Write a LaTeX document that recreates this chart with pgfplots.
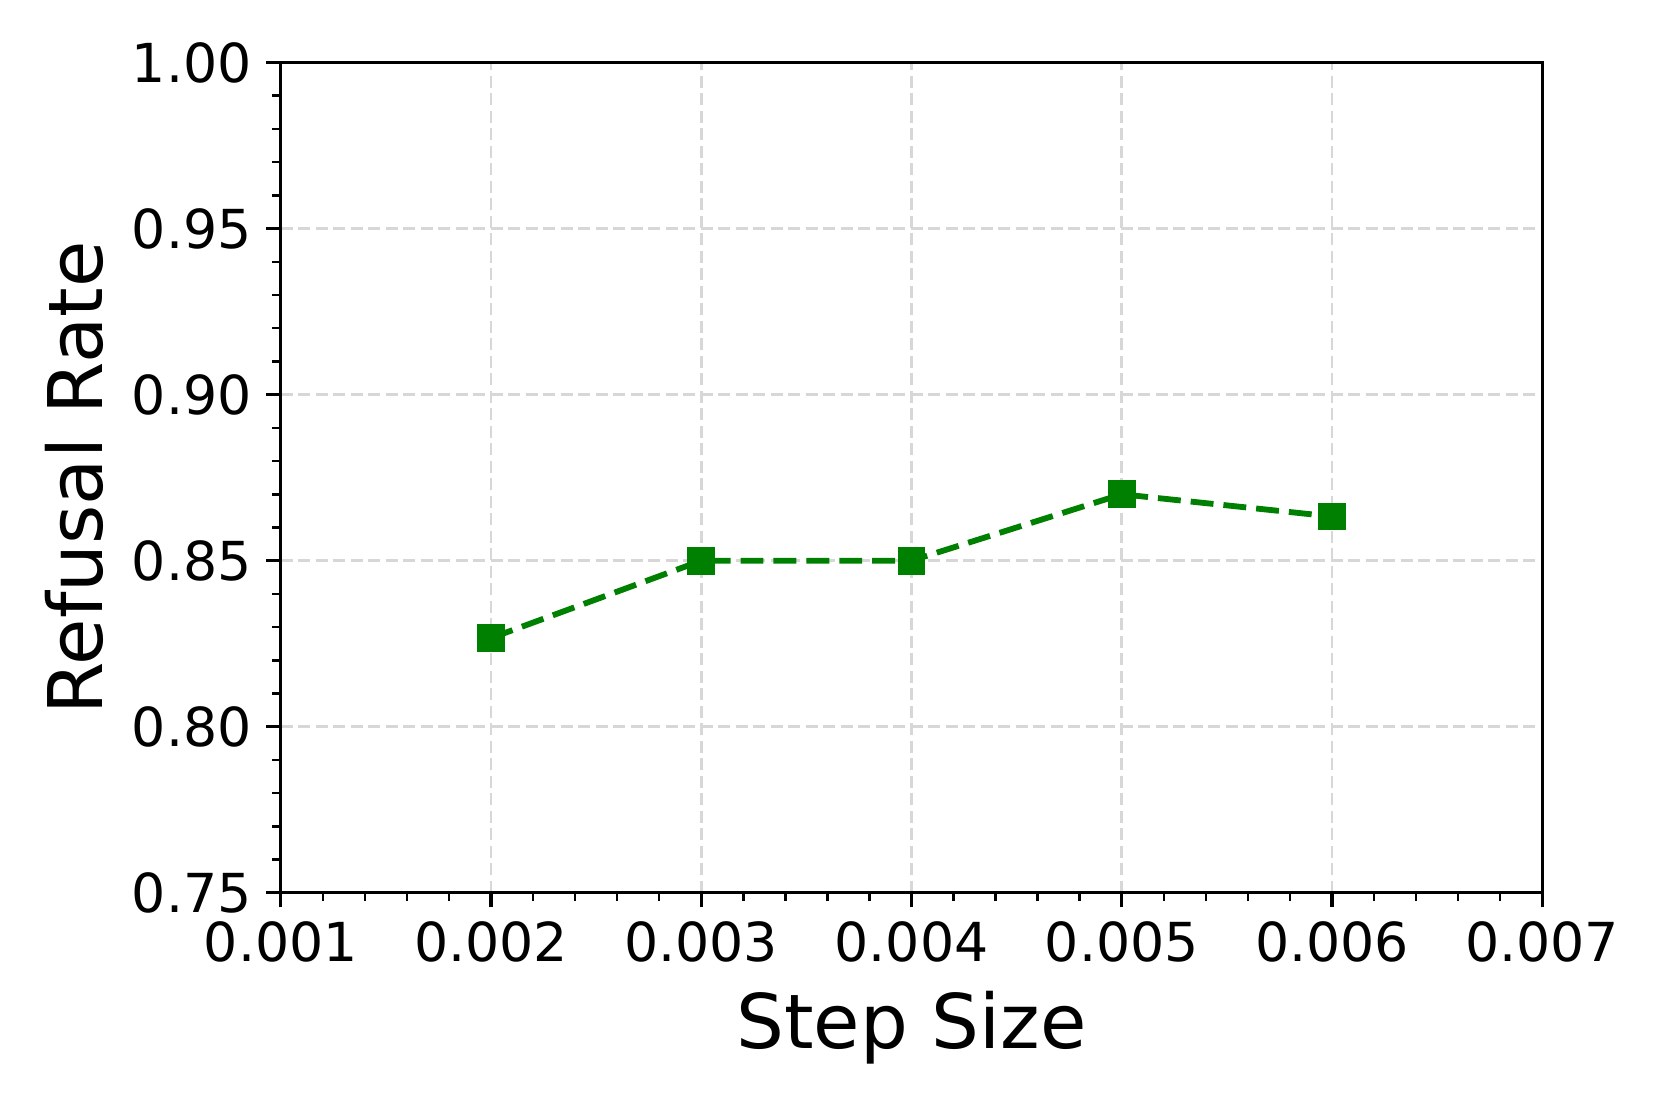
\documentclass[border=0pt]{standalone}
\usepackage{fontspec}
\setmainfont{DejaVu Sans}
\usepackage{pgfplots}
\pgfplotsset{compat=1.18}
\definecolor{mplgreen}{HTML}{008000}
\definecolor{gridgray}{RGB}{215,215,215}
\begin{document}
\begin{tikzpicture}
\path[use as bounding box] (-67.4pt,-51.4pt) rectangle (331.3pt,214.3pt);
\begin{axis}[
  at={(0,0)}, anchor=south west,
  scale only axis,
  width=302.8pt, height=199.3pt,
  xmin=0.001, xmax=0.007, ymin=0.75, ymax=1.0,
  xtick={0.001,0.002,0.003,0.004,0.005,0.006,0.007},
  xticklabels={0.001,0.002,0.003,0.004,0.005,0.006,0.007},
  ytick={0.75,0.80,0.85,0.90,0.95,1.00},
  yticklabels={0.75,0.80,0.85,0.90,0.95,1.00},
  scaled x ticks=false, scaled y ticks=false,
  minor x tick num=4, minor y tick num=4,
  tick align=outside,
  xtick pos=bottom, ytick pos=left,
  major tick length=3.5pt, minor tick length=2pt,
  every major tick/.style={line width=0.8pt, black},
  every minor tick/.style={line width=0.6pt, black},
  axis line style={line width=0.8pt},
  /pgf/number format/assume math mode=true,
  tick label style={font=\fontsize{12.9}{15}\selectfont},
  label style={font=\fontsize{18.1}{22}\selectfont},
  xlabel={Step Size}, ylabel={Refusal Rate},
  xmajorgrids, ymajorgrids,
  major grid style={gridgray, line width=0.7pt, dash pattern=on 2.9pt off 1.3pt},
]
\addplot[mplgreen, line width=1.4pt, dash pattern=on 5.5pt off 2.4pt,
  mark=square*, mark size=3.2pt, mark options={solid, fill=mplgreen, draw=mplgreen, line width=0pt}]
  coordinates {(0.002,0.8267) (0.003,0.85) (0.004,0.85) (0.005,0.87) (0.006,0.8633)};
\end{axis}
\end{tikzpicture}
\end{document}
